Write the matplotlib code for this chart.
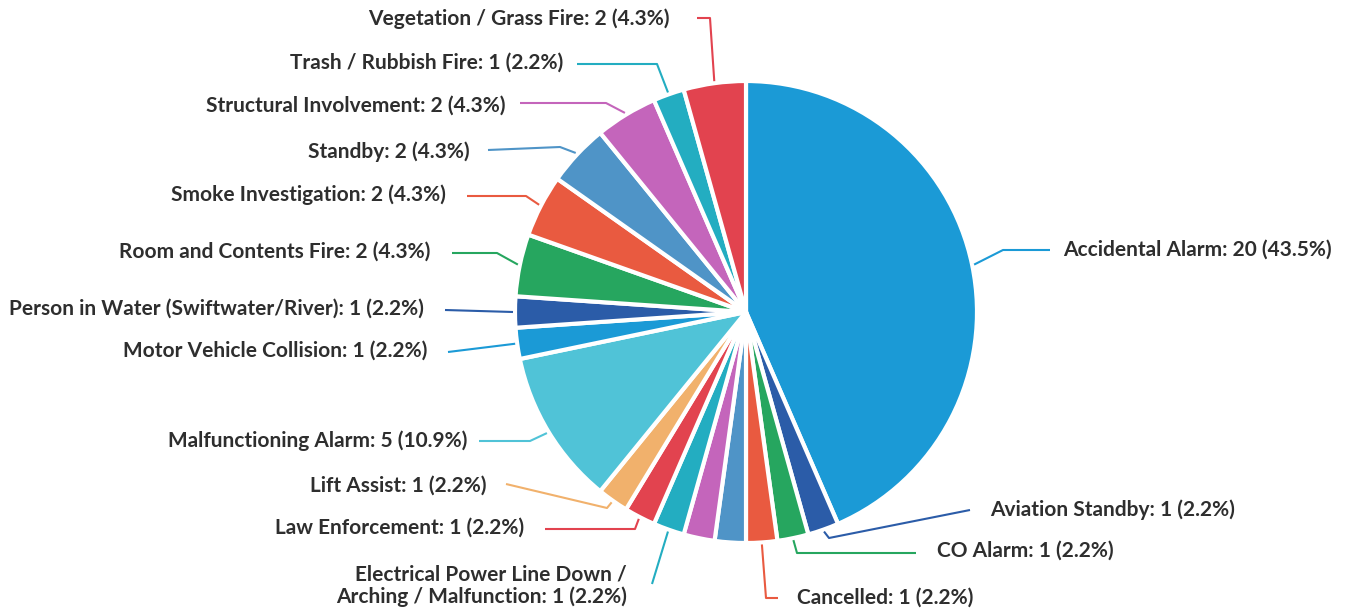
import matplotlib
matplotlib.use('Agg')
import matplotlib.pyplot as plt
import numpy as np

# incident types, clockwise from 12 o'clock (two small slices carry no label)
categories = ["Accidental Alarm", "Aviation Standby", "CO Alarm", "Cancelled",
              None, None,
              "Electrical Power Line Down /\nArching / Malfunction", "Law Enforcement",
              "Lift Assist", "Malfunctioning Alarm", "Motor Vehicle Collision",
              "Person in Water (Swiftwater/River)", "Room and Contents Fire",
              "Smoke Investigation", "Standby", "Structural Involvement",
              "Trash / Rubbish Fire", "Vegetation / Grass Fire"]
counts = [20, 1, 1, 1, 1, 1, 1, 1, 1, 5, 1, 1, 2, 2, 2, 2, 1, 2]

palette = ["#1b9ad6", "#2b5ca8", "#26a65f", "#e95a40", "#4f94c7",
           "#c465bb", "#23adc1", "#e2434f", "#f1b16c", "#50c3d7"]
colors = [palette[i % len(palette)] for i in range(len(counts))]

W, H = 1356, 613
cx, cy, R = 746, 312, 231   # pixel layout, y measured from top

# label layout (pixels from top-left): text x, text y, align, elbow point, line end
label_layout = {
    "Accidental Alarm": (1063, 250, 'left', (1003, 250), (1050, 250)),
    "Aviation Standby": (990, 510, 'left', (829, 538), (970, 510)),
    "CO Alarm": (937, 551, 'left', (797, 553), (916, 553)),
    "Cancelled": (797, 598, 'left', (766, 598), (778, 598)),
    "Electrical Power Line Down /\nArching / Malfunction": (627, 586, 'right', (652, 584), (652, 584)),
    "Law Enforcement": (524, 528, 'right', (635, 529), (545, 529)),
    "Lift Assist": (487, 486, 'right', (607, 508), (506, 484)),
    "Malfunctioning Alarm": (467, 441, 'right', (530, 441), (479, 441)),
    "Motor Vehicle Collision": (427, 351, 'right', (448, 352), (448, 352)),
    "Person in Water (Swiftwater/River)": (424, 309, 'right', (445, 310), (445, 310)),
    "Room and Contents Fire": (430, 252, 'right', (497, 253), (452, 253)),
    "Smoke Investigation": (446, 195, 'right', (526, 196), (467, 196)),
    "Standby": (470, 152, 'right', (560, 147), (488, 150)),
    "Structural Involvement": (506, 106, 'right', (606, 103), (520, 103)),
    "Trash / Rubbish Fire": (563, 63, 'right', (657, 64), (577, 64)),
    "Vegetation / Grass Fire": (670, 19, 'right', (710, 18), (697, 18)),
}

fig = plt.figure(figsize=(W / 100, H / 100), dpi=100)
ax = fig.add_axes([0, 0, 1, 1])

wedges, _ = ax.pie(counts, colors=colors, startangle=90, counterclock=False,
                   center=(cx, H - cy), radius=R,
                   wedgeprops=dict(edgecolor='white', linewidth=3, joinstyle='round'))
# pie() resets the limits, so set the pixel frame afterwards
ax.set_xlim(0, W)
ax.set_ylim(0, H)
ax.set_aspect('equal')
ax.axis('off')

total = sum(counts)
for w, name, n in zip(wedges, categories, counts):
    if name is None:
        continue
    tx, ty, ha, elbow, end = label_layout[name]
    mid = np.deg2rad((w.theta1 + w.theta2) / 2)
    p0 = (cx + (R + 2) * np.cos(mid), H - cy + (R + 2) * np.sin(mid))
    xs = [p0[0], elbow[0], end[0]]
    ys = [p0[1], H - elbow[1], H - end[1]]
    ax.plot(xs, ys, color=w.get_facecolor(), lw=1.5, solid_capstyle='butt')
    txt = f"{name}: {n} ({100 * n / total:.1f}%)"
    ax.text(tx, H - ty, txt, ha=ha, va='center', fontsize=15,
            family=['Lato', 'DejaVu Sans'], weight='bold', color='#2e2e2e',
            linespacing=1.1, multialignment='right' if ha == 'right' else 'left')

fig.savefig('out.png', dpi=100, facecolor='white')
